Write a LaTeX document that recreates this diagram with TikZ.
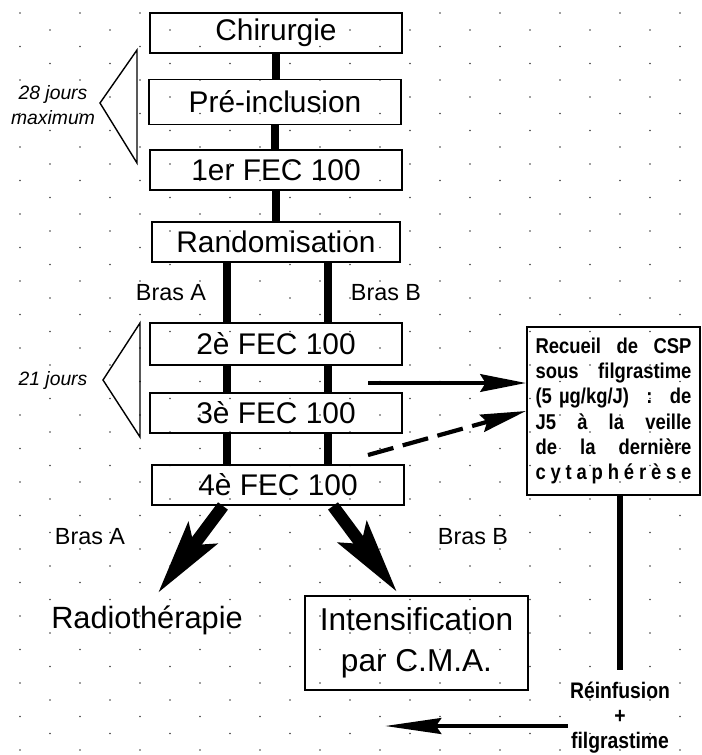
\documentclass[tikz,border=0pt]{standalone}
\usepackage{fontspec}
\setmainfont{Liberation Sans}
\newfontfamily\narrowfont{Liberation Sans}[FakeStretch=0.86]
\usetikzlibrary{arrows.meta}
\newcommand{\jline}[1]{\makebox[3.12cm][s]{#1}}
\tikzset{
  stepbox/.style={draw,line width=1.1pt,minimum width=5.04cm,minimum height=0.8cm,inner sep=0pt,
    font=\fontsize{17}{20}\selectfont},
  bar/.style={line width=4.5pt},
  fatarrow/.style={line width=7pt,-{Stealth[length=42pt,width=20pt,inset=8pt]}},
  cspline/.style={line width=2.4pt,-{Stealth[length=26pt,width=10pt,inset=3pt]}},
  brace/.style={line width=0.8pt,line join=miter},
  armlbl/.style={font=\fontsize{13.3}{16}\selectfont},
  daylbl/.style={font=\itshape\fontsize{11}{14.2}\selectfont,align=center},
  bgdot/.style={fill=black!75},
}
\begin{document}
\begin{tikzpicture}[x=0.02cm,y=-0.02cm]
  \useasboundingbox (0,0) rectangle (702,755);
  % dotted background
  \foreach \i in {0,...,23}{
    \pgfmathsetmacro{\yo}{13+17*mod(\i,2)}
    \foreach \k in {0,...,22}
      \fill[bgdot] (20+30*\i,\yo+33.5*\k) circle[radius=0.5pt];
  }
  % main column
  \node[stepbox] (chir) at (276,33) {Chirurgie};
  \node[stepbox,minimum height=0.9cm] (preinc) at (275,102) {Pré-inclusion};
  \node[stepbox] (fec1) at (276,170) {1er FEC 100};
  \node[stepbox,minimum width=4.96cm] (rando) at (276,242) {Randomisation};
  \node[stepbox,minimum height=0.84cm] (fec2) at (276,344) {2è FEC 100};
  \node[stepbox] (fec3) at (276,413) {3è FEC 100};
  \node[stepbox] (fec4) at (278,485) {4è FEC 100};
  \foreach \a/\b in {chir/preinc,preinc/fec1,fec1/rando}
    \draw[bar] (\a.south) -- (\a.south |- \b.north);
  \coordinate (armA) at (227,300);
  \coordinate (armB) at (328,300);
  \foreach \a/\b in {rando/fec2,fec2/fec3,fec3/fec4}{
    \draw[bar] (\a.south -| armA) -- (\b.north -| armA);
    \draw[bar] (\a.south -| armB) -- (\b.north -| armB);
  }
  \node[armlbl] (brasA) at (171,293) {Bras A};
  \node[armlbl] (brasB) at (386,293) {Bras B};
  % time spans
  \draw[brace] (137,50) -- (100,103) -- (137,163) -- cycle;
  \node[daylbl] (max28) at (53,105) {28 jours\\maximum};
  \draw[brace] (140,323) -- (103,380) -- (140,437) -- cycle;
  \node[daylbl] (d21) at (53,380) {21 jours};
  % outcomes
  \node[font=\fontsize{17.5}{21}\selectfont] (radio) at (147,620) {Radiothérapie};
  \node[draw,line width=1.1pt,minimum width=4.46cm,minimum height=1.88cm,align=center,
    font=\fontsize{18}{23.5}\selectfont] (intens) at (416.5,643) {Intensification\\par C.M.A.};
  \coordinate (tipA) at (158,593);
  \coordinate (tipB) at (397,592);
  \draw[fatarrow] ([xshift=-1.1cm]fec4.south) -- (tipA);
  \draw[fatarrow] ([xshift=1.1cm]fec4.south) -- (tipB);
  \node[armlbl] (brasA2) at (90,537) {Bras A};
  \node[armlbl] (brasB2) at (473,537) {Bras B};
  % stem cell harvest
  \node[draw,line width=1.1pt,minimum width=3.46cm,minimum height=3.36cm,text width=3.12cm,
    inner sep=0pt,align=left,font=\narrowfont\bfseries\fontsize{12.2}{14.3}\selectfont] (recueil) at (613.5,411)
    {\jline{Recueil\hfill de\hfill CSP}\\
     \jline{sous\hfill filgrastime}\\
     \jline{(5 µg/kg/J)\hfill :\hfill de}\\
     \jline{J5\hfill à\hfill la\hfill veille}\\
     \jline{de\hfill la\hfill dernière}\\
     \jline{c\hfill y\hfill t\hfill a\hfill p\hfill h\hfill é\hfill r\hfill è\hfill s\hfill e}};
  \coordinate (cspA) at (368,383);
  \coordinate (cspB) at (368,455);
  \draw[cspline] (cspA) -- (recueil.west |- cspA);
  \draw[cspline,dash pattern=on 15pt off 5.5pt] (cspB) -- (recueil.west);
  \node[font=\narrowfont\bfseries\fontsize{12.8}{14.3}\selectfont,align=center,inner sep=1pt] (reinf) at (620,718)
    {Réinfusion\\+\\filgrastime};
  \draw[line width=3.4pt,shorten >=6pt] (recueil.south -| reinf.north) -- (reinf.north);
  \coordinate (backtip) at (385,726);
  \draw[cspline,-{Stealth[length=32pt,width=9pt,inset=3pt]}] (reinf.west |- backtip) -- (backtip);
\end{tikzpicture}
\end{document}
